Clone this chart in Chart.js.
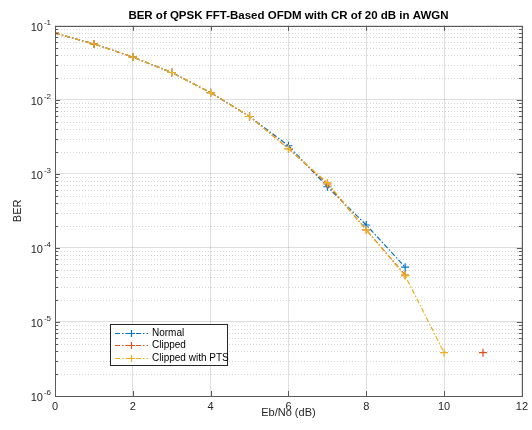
<!DOCTYPE html>
<html>
<head>
<meta charset="utf-8">
<title>BER QPSK OFDM</title>
<script src="https://cdn.jsdelivr.net/npm/chart.js@4.4.1/dist/chart.umd.min.js"></script>
<style>
  body { margin: 0; background: #fff; }
  canvas { display: block; }
</style>
</head>
<body>
<canvas id="graficoBer" width="532" height="430"></canvas>
<script>
// Eb/No (dB) e BER medidos de cada caso (null = zero, nao aparece no log)
const ebno = [0, 1, 2, 3, 4, 5, 6, 7, 8, 9, 10, 11];
const berNormal  = [0.0796, 0.057, 0.0378, 0.0234, 0.0125, 0.00596, 0.0024, 6.7e-4, 2.04e-4, 5.5e-5, null, null];
const berClipped = [0.0796, 0.057, 0.0378, 0.0234, 0.0125, 0.00596, 0.0022, 7.3e-4, 1.75e-4, 4.3e-5, null, 3.85e-6];
const berPts     = [0.0796, 0.057, 0.0378, 0.0234, 0.0125, 0.00596, 0.0022, 7.6e-4, 1.75e-4, 4.2e-5, 3.85e-6, null];

const nomesSeries = ["Normal", "Clipped", "Clipped with PTS"];
const xTicks = [0, 2, 4, 6, 8, 10, 12];
const yTicks = [1e-6, 1e-5, 1e-4, 1e-3, 1e-2, 1e-1];
const yExpoentes = ["-6", "-5", "-4", "-3", "-2", "-1"];

const cores = ["#0072BD", "#D95319", "#EDB120"];
const tracejado = [5, 2, 1.5, 2];
const fonte = "'Liberation Sans', Arial, Helvetica, sans-serif";

function pontos(valores) {
  return ebno.map((x, i) => ({ x: x, y: valores[i] }));
}

// subdivisoes do eixo log (2..9 x 10^k)
const yMenores = [];
for (let k = -6; k < -1; k++) {
  for (let m = 2; m <= 9; m++) yMenores.push(m * Math.pow(10, k));
}

const gradeMenor = {
  id: "gradeMenor",
  beforeDatasetsDraw(chart) {
    const { ctx, chartArea, scales } = chart;
    ctx.save();
    ctx.strokeStyle = "rgba(38,38,38,0.2)";
    ctx.lineWidth = 1;
    ctx.setLineDash([1, 2]);
    yMenores.forEach(v => {
      const y = Math.round(scales.y.getPixelForValue(v)) + 0.5;
      ctx.beginPath();
      ctx.moveTo(chartArea.left, y);
      ctx.lineTo(chartArea.right, y);
      ctx.stroke();
    });
    ctx.restore();
  }
};

// caixa, marcas para dentro e rotulos 10^k do eixo y
const caixa = {
  id: "caixa",
  afterDatasetsDraw(chart) {
    const { ctx, chartArea, scales } = chart;
    const { left, right, top, bottom } = chartArea;
    ctx.save();
    ctx.strokeStyle = "#5a5a5a";
    ctx.lineWidth = 1;
    ctx.setLineDash([]);
    ctx.strokeRect(Math.round(left) + 0.5, Math.round(top) + 0.5, Math.round(right - left), Math.round(bottom - top));
    ctx.beginPath();
    xTicks.forEach(v => {
      const x = Math.round(scales.x.getPixelForValue(v)) + 0.5;
      ctx.moveTo(x, bottom); ctx.lineTo(x, bottom - 5);
      ctx.moveTo(x, top); ctx.lineTo(x, top + 5);
    });
    yTicks.forEach(v => {
      const y = Math.round(scales.y.getPixelForValue(v)) + 0.5;
      ctx.moveTo(left, y); ctx.lineTo(left + 5, y);
      ctx.moveTo(right, y); ctx.lineTo(right - 5, y);
    });
    yMenores.forEach(v => {
      const y = Math.round(scales.y.getPixelForValue(v)) + 0.5;
      ctx.moveTo(left, y); ctx.lineTo(left + 3, y);
      ctx.moveTo(right, y); ctx.lineTo(right - 3, y);
    });
    ctx.stroke();

    ctx.fillStyle = "#262626";
    ctx.textBaseline = "middle";
    yTicks.forEach((v, i) => {
      const y = scales.y.getPixelForValue(v);
      ctx.font = "8px " + fonte;
      ctx.textAlign = "right";
      ctx.fillText(yExpoentes[i], left - 4, y - 3);
      const wExp = ctx.measureText(yExpoentes[i]).width;
      ctx.font = "11px " + fonte;
      ctx.fillText("10", left - 5 - wExp, y + 2);
    });
    ctx.restore();
  }
};

// legenda dentro da area do grafico
const legendaInterna = {
  id: "legendaInterna",
  afterDraw(chart) {
    const { ctx, chartArea } = chart;
    const x0 = chartArea.left + 55;
    const y0 = chartArea.bottom - 72;
    const larg = 117, alt = 41;
    ctx.save();
    ctx.fillStyle = "#fff";
    ctx.fillRect(x0, y0, larg, alt);
    ctx.strokeStyle = "#262626";
    ctx.lineWidth = 1;
    ctx.strokeRect(x0 + 0.5, y0 + 0.5, larg, alt);
    nomesSeries.forEach((nome, i) => {
      const y = Math.round(y0 + 8.5 + i * 12.5) + 0.5;
      ctx.strokeStyle = cores[i];
      ctx.lineWidth = 1.2;
      ctx.setLineDash(tracejado);
      ctx.beginPath();
      ctx.moveTo(x0 + 5, y);
      ctx.lineTo(x0 + 38, y);
      ctx.stroke();
      ctx.setLineDash([]);
      ctx.beginPath();
      ctx.moveTo(x0 + 21.5 - 3.5, y); ctx.lineTo(x0 + 21.5 + 3.5, y);
      ctx.moveTo(x0 + 21.5, y - 3.5); ctx.lineTo(x0 + 21.5, y + 3.5);
      ctx.stroke();
      ctx.fillStyle = "#000";
      ctx.font = "10px " + fonte;
      ctx.textBaseline = "middle";
      ctx.fillText(nome, x0 + 42, y);
    });
    ctx.restore();
  }
};

function serie(i, valores, ordem) {
  return {
    label: nomesSeries[i],
    data: pontos(valores),
    borderColor: cores[i],
    backgroundColor: cores[i],
    borderWidth: 1.2,
    borderDash: tracejado,
    pointStyle: "cross",
    pointRadius: 4,
    pointBorderWidth: 1.2,
    pointBorderColor: cores[i],
    spanGaps: false,
    tension: 0,
    order: ordem
  };
}

const ctx = document.getElementById("graficoBer").getContext("2d");
new Chart(ctx, {
  type: "line",
  data: {
    datasets: [
      serie(0, berNormal, 3),
      serie(1, berClipped, 2),
      serie(2, berPts, 1)
    ]
  },
  options: {
    responsive: false,
    animation: false,
    devicePixelRatio: 1,
    layout: { padding: { top: 1, right: 7, left: 0, bottom: 0 } },
    plugins: {
      legend: { display: false },
      tooltip: { enabled: false },
      title: {
        display: true,
        fullSize: false,
        text: "BER of QPSK FFT-Based OFDM with CR of 20 dB in AWGN",
        color: "#000",
        font: { family: fonte, size: 11.5, weight: "bold" },
        padding: { top: 8, bottom: 3 }
      }
    },
    scales: {
      x: {
        type: "linear",
        min: 0,
        max: 12,
        afterBuildTicks: s => { s.ticks = xTicks.map(v => ({ value: v })); },
        afterFit: s => { s.height = 34; },
        grid: { color: "rgba(38,38,38,0.15)", drawTicks: false },
        border: { display: false },
        ticks: { color: "#262626", padding: 4, font: { family: fonte, size: 11 } },
        title: {
          display: true,
          text: "Eb/No (dB)",
          color: "#262626",
          font: { family: fonte, size: 11 },
          padding: { top: 0, bottom: 10 }
        }
      },
      y: {
        type: "logarithmic",
        min: 1e-6,
        max: 1e-1,
        afterBuildTicks: s => { s.ticks = yTicks.map(v => ({ value: v })); },
        afterFit: s => { s.width = 55; },
        grid: { color: "rgba(38,38,38,0.15)", drawTicks: false },
        border: { display: false },
        ticks: { display: false },
        title: {
          display: true,
          text: "BER",
          color: "#262626",
          font: { family: fonte, size: 11 },
          padding: { top: 11, bottom: 0 }
        }
      }
    }
  },
  plugins: [gradeMenor, caixa, legendaInterna]
});
</script>
</body>
</html>
